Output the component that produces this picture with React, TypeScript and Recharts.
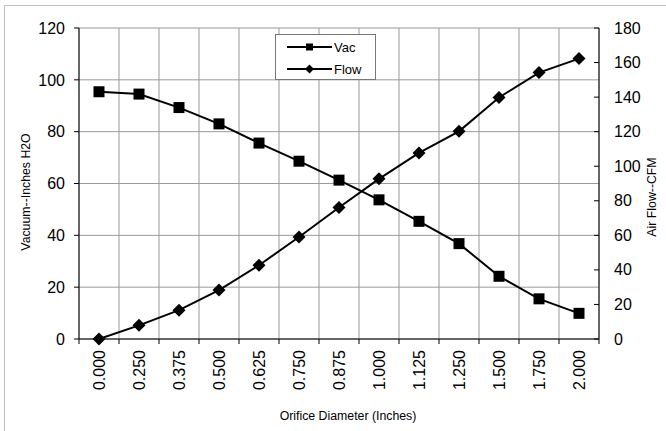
import { CartesianGrid, Legend, Line, LineChart, XAxis, YAxis } from 'recharts'

const diameters = ['0.000', '0.250', '0.375', '0.500', '0.625', '0.750', '0.875', '1.000', '1.125', '1.250', '1.500', '1.750', '2.000']
const vac = [95.4, 94.5, 89.3, 83.0, 75.6, 68.6, 61.3, 53.7, 45.4, 36.8, 24.2, 15.5, 9.9]
const flow = [0, 7.9, 16.7, 28.3, 42.7, 59.0, 76.1, 92.7, 107.7, 120.2, 139.8, 154.2, 162.3]
const vacTicks = [0, 20, 40, 60, 80, 100, 120]
const flowTicks = [0, 20, 40, 60, 80, 100, 120, 140, 160, 180]
const seriesOrder = ['Vac', 'Flow']

const font = "'Liberation Sans', Arial, sans-serif"

const data = diameters.map((d, i) => ({ idx: i, dia: d, Vac: vac[i], Flow: flow[i] }))
const xDomain = [-0.5, diameters.length - 0.5]
const centers = diameters.map((_, i) => i)
// category boundaries for the grid and the bottom tick marks
const boundaries = [...diameters.map((_, i) => i - 0.5), diameters.length - 0.5]

const R_TICK_SIZE = 6
const R_TICK_MARGIN = 9

function XTick({ x, y, payload }: any) {
  return (
    <text x={x} y={y} transform={`rotate(-90 ${x} ${y})`} textAnchor="end" dy="0.35em"
      fontSize={16} fontFamily={font} fill="#000">
      {diameters[payload.value]}
    </text>
  )
}

// right axis ticks point into the plot, like the original
function RightTick({ x, y, payload }: any) {
  const ax = x - R_TICK_SIZE - R_TICK_MARGIN
  return (
    <g>
      <line x1={ax - 5} x2={ax} y1={y} y2={y} stroke="#000" />
      <text x={x} y={y} dy="0.35em" textAnchor="start" fontSize={16} fontFamily={font} fill="#000">
        {payload.value}
      </text>
    </g>
  )
}

function AxisTitle({ text, px, py, rot }: any) {
  return (
    <text x={px} y={py} transform={rot ? `rotate(${rot} ${px} ${py})` : undefined}
      textAnchor="middle" dy="0.35em" fontSize={12.3} fontFamily={font} fill="#000">
      {text}
    </text>
  )
}

function SquareDot({ cx, cy, index, side = 11 }: any) {
  return <rect key={index} x={cx - side / 2} y={cy - side / 2} width={side} height={side} fill="#000" />
}

function DiamondDot({ cx, cy, index, half = 6.5 }: any) {
  return <polygon key={index} points={`${cx},${cy - half} ${cx + half},${cy} ${cx},${cy + half} ${cx - half},${cy}`} fill="#000" />
}

function LegendBox({ payload }: any) {
  const items = [...(payload || [])].sort((a: any, b: any) => seriesOrder.indexOf(a.value) - seriesOrder.indexOf(b.value))
  return (
    <div style={{
      boxSizing: 'border-box', width: 101, height: 46, border: '1px solid #777', background: '#fff',
      paddingLeft: 11, paddingTop: 1, fontFamily: font, fontSize: 13, color: '#000',
    }}>
      {items.map((p: any) => (
        <div key={p.value} style={{ display: 'flex', alignItems: 'center', height: 22 }}>
          <svg width={45} height={22}>
            <line x1={0} x2={45} y1={11} y2={11} stroke="#000" strokeWidth={2} />
            {p.value === 'Vac'
              ? <SquareDot cx={22.5} cy={11} side={7} />
              : <DiamondDot cx={22.5} cy={11} half={4.5} />}
          </svg>
          <span style={{ marginLeft: 2 }}>{p.value}</span>
        </div>
      ))}
    </div>
  )
}

export default function App() {
  return (
    <div style={{ position: 'absolute', left: 0, top: 0, width: 666, height: 431, overflow: 'hidden', background: '#fff' }}>
      <div style={{
        position: 'absolute', left: 4, top: 5, width: 700, height: 500,
        borderLeft: '1px solid #c0c0c0', borderTop: '1px solid #c0c0c0',
      }} />
      <LineChart width={666} height={431} data={data} margin={{ top: 28, right: 0, bottom: 0, left: 0 }}>
        <CartesianGrid xAxisId="grid" yAxisId="left" stroke="#999" />
        <XAxis xAxisId="grid" type="number" dataKey="idx" domain={xDomain}
          ticks={boundaries} interval={0} height={1} tickSize={5}
          tickFormatter={() => ''} axisLine={{ stroke: '#000' }} tickLine={{ stroke: '#000' }} />
        <XAxis xAxisId="main" type="number" dataKey="idx" domain={xDomain} ticks={centers}
          interval={0} height={91} axisLine={false} tickLine={false}
          tickSize={0} tickMargin={10} tick={<XTick />}
          label={<AxisTitle text="Orifice Diameter (Inches)" px={348} py={416} />} />
        <YAxis yAxisId="left" domain={[0, 120]} ticks={vacTicks} width={79} tickSize={5} tickMargin={9}
          axisLine={{ stroke: '#000' }} tickLine={{ stroke: '#000' }}
          tick={{ fill: '#000', fontSize: 16, fontFamily: font }}
          label={<AxisTitle text="Vacuum--Inches H2O" px={26} py={192} rot={-90} />} />
        <YAxis yAxisId="right" orientation="right" domain={[0, 180]} ticks={flowTicks} width={67}
          tickSize={R_TICK_SIZE} tickMargin={R_TICK_MARGIN} axisLine={{ stroke: '#000' }} tickLine={false}
          tick={<RightTick />}
          label={<AxisTitle text="Air Flow--CFM" px={652} py={197} rot={-90} />} />
        <Legend layout="vertical" align="center" verticalAlign="middle" content={<LegendBox />}
          wrapperStyle={{ left: 275, top: 34, width: 101, height: 46 }} />
        <Line xAxisId="main" yAxisId="left" dataKey="Vac" name="Vac" stroke="#000" strokeWidth={2}
          dot={<SquareDot />} activeDot={false} isAnimationActive={false} />
        <Line xAxisId="main" yAxisId="right" dataKey="Flow" name="Flow" stroke="#000" strokeWidth={2}
          dot={<DiamondDot />} activeDot={false} isAnimationActive={false} />
      </LineChart>
    </div>
  )
}
